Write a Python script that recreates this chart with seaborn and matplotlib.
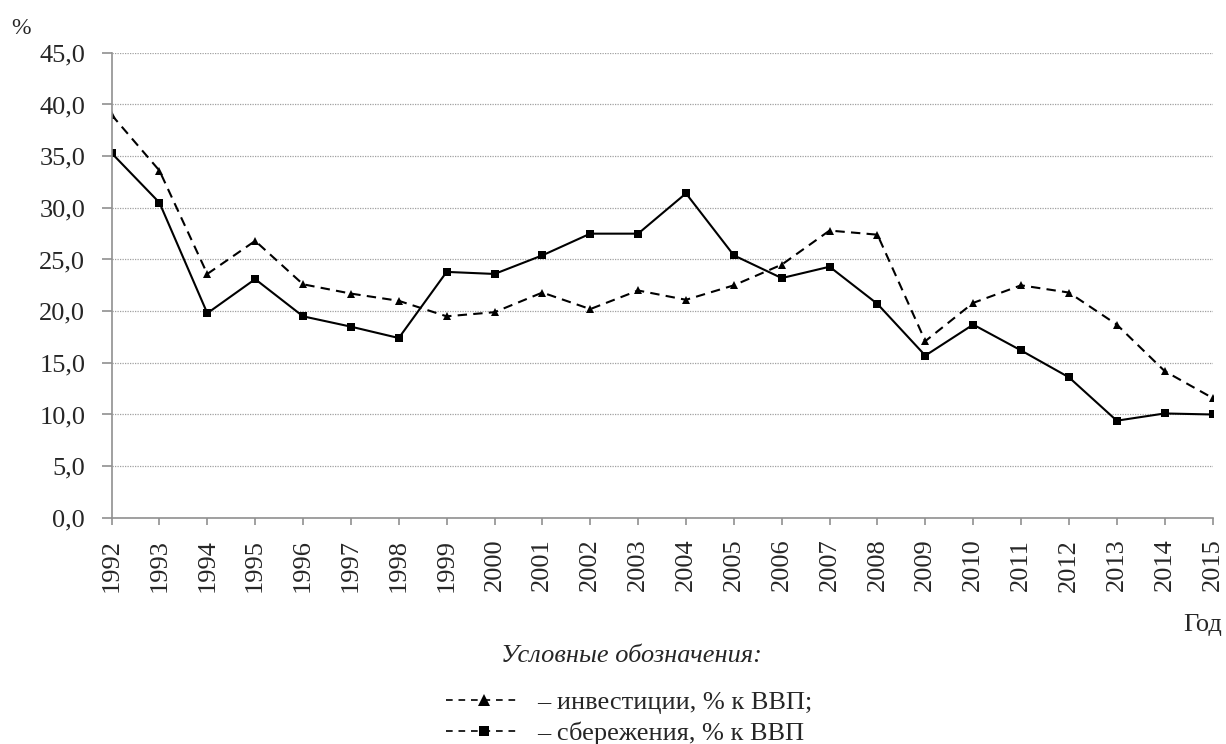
import pandas as pd
import matplotlib.pyplot as plt
import seaborn as sns
from matplotlib.lines import Line2D

# ----------------------------------------------------------
# DATA
# ----------------------------------------------------------
years = list(range(1992, 2016))

investments = [39.0, 33.6, 23.6, 26.8, 22.6, 21.7, 21.0, 19.5, 19.9, 21.8,
               20.2, 22.0, 21.1, 22.5, 24.5, 27.8, 27.4, 17.1, 20.8, 22.5,
               21.8, 18.7, 14.2, 11.6]

savings = [35.3, 30.5, 19.8, 23.1, 19.5, 18.5, 17.4, 23.8, 23.6, 25.4,
           27.5, 27.5, 31.4, 25.4, 23.2, 24.3, 20.7, 15.7, 18.7, 16.2,
           13.6, 9.4, 10.1, 10.0]

y_ticks = [0, 5, 10, 15, 20, 25, 30, 35, 40, 45]

label_inv = "– инвестиции, % к ВВП;"
label_sav = "– сбережения, % к ВВП"

df = pd.DataFrame({"year": years, "inv": investments, "sav": savings})

# ----------------------------------------------------------
# STYLE
# ----------------------------------------------------------
sns.set_style("white")
plt.rcParams["font.family"] = ["Liberation Serif", "DejaVu Serif"]
FS = 19

fig = plt.figure(figsize=(12.26, 7.44), dpi=100)
ax = fig.add_axes([0.091, 0.304, 0.898, 0.625])

# ----------------------------------------------------------
# LINES
# ----------------------------------------------------------
sns.lineplot(data=df, x="year", y="inv", ax=ax, color="black",
             linewidth=1.5, marker="^", markersize=6, markeredgewidth=0)
ax.lines[-1].set_dashes((4.5, 3))

sns.lineplot(data=df, x="year", y="sav", ax=ax, color="black",
             linewidth=1.5, marker="s", markersize=5.5, markeredgewidth=0)

# ----------------------------------------------------------
# AXES
# ----------------------------------------------------------
ax.set_xlim(years[0], years[-1])
ax.set_ylim(0, 45)
ax.set_xticks(years)
ax.set_xticklabels([str(y) for y in years], rotation=90)
ax.set_yticks(y_ticks)
ax.set_yticklabels([f"{v:.1f}".replace(".", ",") for v in y_ticks])
ax.set_xlabel("")
ax.set_ylabel("")

ax.yaxis.grid(True, linestyle=(0, (1, 1)), color="#a0a0a0", linewidth=0.9)
ax.xaxis.grid(False)
ax.set_axisbelow(True)

for side in ["top", "right"]:
    ax.spines[side].set_visible(False)
for side in ["left", "bottom"]:
    ax.spines[side].set_color("#909090")
    ax.spines[side].set_linewidth(1.2)

ax.tick_params(axis="both", direction="out", width=1.2, bottom=True,
               left=True, color="#909090", labelsize=FS)
ax.tick_params(axis="y", length=7, pad=12)
ax.tick_params(axis="x", length=5, pad=10)

# ----------------------------------------------------------
# TEXTS
# ----------------------------------------------------------
fig.text(0.009, 0.962, "%", fontsize=17, ha="left", va="center")
fig.text(0.997, 0.16, "Год", fontsize=FS, ha="right", va="center")
fig.text(0.515, 0.118, "Условные обозначения:", fontsize=FS,
         style="italic", ha="center", va="center")

# ----------------------------------------------------------
# LEGEND (both handles drawn dashed, as in the original)
# ----------------------------------------------------------
h_inv = Line2D([], [], color="black", linewidth=1.2, linestyle=(0, (4, 3.5)),
               marker="^", markersize=8, markeredgewidth=0)
h_sav = Line2D([], [], color="black", linewidth=1.2, linestyle=(0, (4, 3.5)),
               marker="s", markersize=7, markeredgewidth=0)

fig.legend([h_inv, h_sav], [label_inv, label_sav],
           loc="upper left", bbox_to_anchor=(0.364, 0.072),
           frameon=False, handlelength=2.85, handletextpad=0.6,
           labelspacing=0.28, fontsize=FS, borderpad=0, borderaxespad=0)

fig.savefig("out.png", dpi=100)
